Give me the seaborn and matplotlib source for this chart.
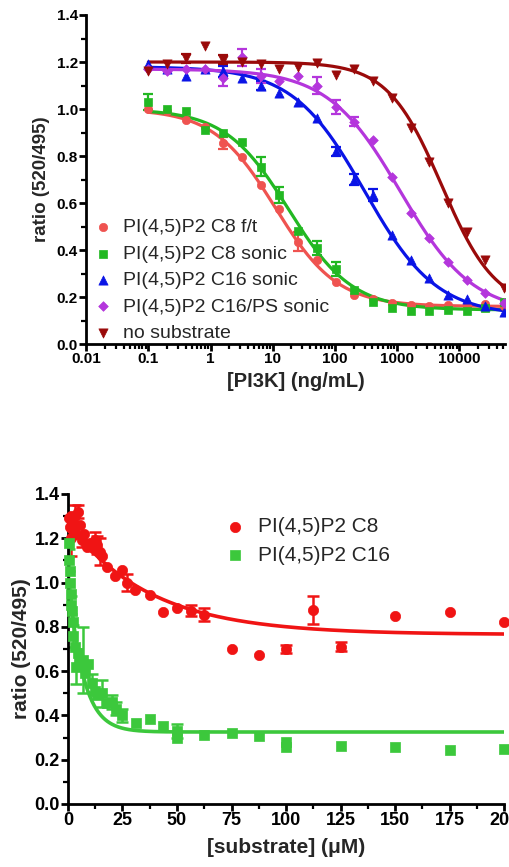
import numpy as np
import pandas as pd
import matplotlib
matplotlib.use('Agg')
import matplotlib.pyplot as plt
from matplotlib.ticker import MultipleLocator, LogLocator, NullFormatter
import seaborn as sns

# ---- top panel: [PI3K] titration (ng/mL), 2-fold dilutions ----
pi3k_conc = [0.1, 0.2, 0.4, 0.8, 1.6, 3.2, 6.4, 12.8, 25.6, 51.2, 102.4, 204.8,
             409.6, 819.2, 1638.4, 3276.8, 6553.6, 13107.2, 26214.4, 52428.8]

c8_ft = [1.00, 0.99, 0.955, 0.925, 0.855, 0.797, 0.675, 0.575, 0.435, 0.357,
         0.265, 0.21, 0.19, 0.175, 0.165, 0.16, 0.166, 0.16, 0.172, 0.16]
c8_ft_err = [0, 0, 0, 0, 0.025, 0, 0, 0, 0.04, 0, 0, 0, 0, 0, 0, 0, 0, 0, 0, 0]

c8_sonic = [1.03, 1.00, 0.99, 0.91, 0.90, 0.86, 0.755, 0.635, 0.48, 0.41,
            0.32, 0.23, 0.178, 0.153, 0.14, 0.14, 0.145, 0.14, 0.153, 0.18]
c8_sonic_err = [0.035, 0, 0, 0, 0, 0, 0.04, 0.035, 0, 0.03, 0.03, 0, 0, 0, 0, 0, 0, 0, 0, 0]

c16_sonic = [1.19, 1.17, 1.14, 1.17, 1.16, 1.13, 1.10, 1.07, 1.03, 0.96,
             0.82, 0.70, 0.634, 0.464, 0.357, 0.28, 0.21, 0.19, 0.16, 0.137]
c16_sonic_err = [0, 0, 0, 0, 0.025, 0, 0.02, 0, 0, 0, 0.02, 0.025, 0.025, 0, 0, 0, 0, 0, 0, 0]

c16ps_sonic = [1.17, 1.16, 1.17, 1.17, 1.13, 1.22, 1.14, 1.12, 1.14, 1.10,
               1.01, 0.946, 0.868, 0.71, 0.557, 0.451, 0.35, 0.272, 0.217, 0.174]
c16ps_sonic_err = [0, 0, 0, 0, 0.03, 0.035, 0.03, 0, 0, 0.035, 0.03, 0.02, 0, 0, 0, 0, 0, 0, 0, 0]

no_substrate = [1.16, 1.19, 1.215, 1.27, 1.21, 1.20, 1.19, 1.17, 1.18, 1.195,
                1.145, 1.17, 1.12, 1.045, 0.92, 0.776, 0.60, 0.478, 0.357, 0.238]
no_substrate_err = [0, 0, 0.02, 0, 0.02, 0, 0, 0, 0, 0, 0, 0, 0, 0, 0, 0, 0, 0, 0, 0]

# 4-parameter logistic fit parameters: top, bottom, EC50, hill
fit_top = [1.00, 1.00, 1.18, 1.17, 1.20]
fit_bottom = [0.16, 0.145, 0.12, 0.13, 0.15]
fit_ec50 = [11, 18, 300, 1120, 5200]
fit_hill = [0.87, 0.85, 0.75, 0.745, 1.0]

top_labels = ['PI(4,5)P2 C8 f/t', 'PI(4,5)P2 C8 sonic', 'PI(4,5)P2 C16 sonic',
              'PI(4,5)P2 C16/PS sonic', 'no substrate']
top_colors = ['#EF5350', '#22B822', '#0A14E6', '#B436DC', '#9A0A0A']
top_markers = ['o', 's', '^', 'D', 'v']
top_sizes = [36, 36, 44, 24, 44]
top_xticks = [0.01, 0.1, 1, 10, 100, 1000, 10000]
top_xticklabels = ['0.01', '0.1', '1', '10', '100', '1000', '10000']

# ---- bottom panel: substrate titration (uM) ----
c8_x = [0.4, 0.8, 1.2, 1.6, 2.0, 2.5, 3.1, 3.8, 4.7, 5.5, 6.3, 7.5, 8.6, 10.0,
        11.6, 12.5, 13.2, 14.7, 15.6, 17.7, 21.6, 24.6, 26.9, 30.7, 37.5, 43.75,
        50, 56.25, 62.5, 75, 87.5, 100, 112.5, 125, 150, 175, 200]
c8_y = [1.29, 1.25, 1.20, 1.30, 1.24, 1.27, 1.30, 1.22, 1.32, 1.26, 1.19, 1.22, 1.16, 1.18,
        1.155, 1.19, 1.17, 1.14, 1.12, 1.07, 1.03, 1.055, 1.0, 0.965, 0.944, 0.865,
        0.886, 0.873, 0.855, 0.70, 0.672, 0.70, 0.876, 0.71, 0.848, 0.866, 0.822]
c8_err = [0, 0.04, 0.08, 0, 0, 0.03, 0.05, 0, 0.03, 0, 0.03, 0, 0, 0,
          0, 0.04, 0.04, 0.06, 0, 0, 0, 0, 0.04, 0, 0, 0,
          0, 0.025, 0.03, 0, 0, 0.02, 0.065, 0.02, 0, 0, 0]

c16_x = [0.4, 0.6, 0.8, 1.0, 1.2, 1.5, 1.8, 2.2, 2.5, 3.1, 3.8, 4.5, 5.0, 7.0,
         7.8, 9.4, 10.9, 12.5, 13.2, 15.6, 17.7, 20.3, 22.0, 25.0, 31.25, 37.5,
         43.75, 50, 50, 62.5, 75, 87.5, 100, 100, 125, 150, 175, 200]
c16_y = [1.18, 1.10, 1.05, 1.00, 0.95, 0.90, 0.87, 0.82, 0.76, 0.71, 0.62, 0.68, 0.64, 0.65,
         0.59, 0.63, 0.545, 0.51, 0.49, 0.50, 0.455, 0.46, 0.43, 0.40, 0.367, 0.383,
         0.35, 0.33, 0.30, 0.31, 0.322, 0.305, 0.28, 0.255, 0.263, 0.257, 0.244, 0.248]
c16_err = [0, 0.05, 0, 0, 0, 0.04, 0, 0, 0.05, 0, 0.08, 0, 0, 0.15,
           0, 0, 0.04, 0, 0, 0.06, 0, 0.03, 0.03, 0.03, 0, 0,
           0, 0.03, 0, 0, 0, 0, 0, 0, 0, 0, 0, 0]

# one-phase decay fits: start value, plateau, rate constant
decay_y0 = [1.27, 1.05]
decay_plateau = [0.765, 0.325]
decay_k = [0.0266, 0.15]

bottom_labels = ['PI(4,5)P2 C8', 'PI(4,5)P2 C16']
bottom_colors = ['#F01414', '#3CC83C']
bottom_markers = ['o', 's']
bottom_xticks = [0, 25, 50, 75, 100, 125, 150, 175, 200]

sns.set_style('ticks')
plt.rcParams['font.family'] = ['Liberation Sans', 'DejaVu Sans']

fig = plt.figure(figsize=(5.1, 8.67), dpi=100)
ax1 = fig.add_axes([0.169, 0.6032, 0.822, 0.3795])
ax2 = fig.add_axes([0.1333, 0.0727, 0.855, 0.3576])


def style_axis(ax, tick_size):
    sns.despine(ax=ax)
    for side in ['left', 'bottom']:
        ax.spines[side].set_linewidth(2)
        ax.spines[side].set_color('black')
    ax.tick_params(which='major', direction='out', length=5, width=2,
                   labelsize=tick_size, pad=1, colors='black')
    ax.tick_params(which='minor', direction='out', length=3.5, width=1.6, colors='black')
    for lab in ax.get_xticklabels() + ax.get_yticklabels():
        lab.set_fontweight('bold')


# top panel
top_series = [c8_ft, c8_sonic, c16_sonic, c16ps_sonic, no_substrate]
top_errs = [c8_ft_err, c8_sonic_err, c16_sonic_err, c16ps_sonic_err, no_substrate_err]
grid = np.logspace(np.log10(pi3k_conc[0]), np.log10(pi3k_conc[-1]), 300)
for i, (vals, errs) in enumerate(zip(top_series, top_errs)):
    fit = fit_bottom[i] + (fit_top[i] - fit_bottom[i]) / (1 + (grid / fit_ec50[i]) ** fit_hill[i])
    sns.lineplot(x=grid, y=fit, color=top_colors[i], lw=2.3, ax=ax1, legend=False)
    df = pd.DataFrame({'conc': pi3k_conc, 'ratio': vals, 'err': errs})
    eb = df[df['err'] > 0]
    ax1.errorbar(eb['conc'], eb['ratio'], yerr=eb['err'], fmt='none',
                 ecolor=top_colors[i], elinewidth=1.6, capsize=3.5, capthick=1.6)
    sns.scatterplot(data=df, x='conc', y='ratio', marker=top_markers[i], s=top_sizes[i],
                    color=top_colors[i], edgecolor=top_colors[i], linewidth=0.5,
                    ax=ax1, label=top_labels[i], zorder=3)

ax1.set_xscale('log')
ax1.set_xlim(0.01, 55000)
ax1.set_ylim(0, 1.4)
ax1.set_xticks(top_xticks)
ax1.set_xticklabels(top_xticklabels)
ax1.xaxis.set_minor_locator(LogLocator(base=10, subs=np.arange(2, 10), numticks=20))
ax1.xaxis.set_minor_formatter(NullFormatter())
ax1.yaxis.set_major_locator(MultipleLocator(0.2))
ax1.yaxis.set_minor_locator(MultipleLocator(0.1))
ax1.set_yticklabels([f'{v:.1f}' for v in ax1.get_yticks()])
style_axis(ax1, 11)
ax1.set_xlabel('[PI3K] (ng/mL)', fontsize=14.5, fontweight='bold', labelpad=4)
ax1.set_ylabel('ratio (520/495)', fontsize=13.5, fontweight='bold', labelpad=5)
ax1.legend(loc='lower left', bbox_to_anchor=(-0.01, -0.035), frameon=False, fontsize=14,
           handlelength=0.8, handletextpad=0.6, labelspacing=0.45, borderpad=0.2,
           markerscale=1.0)

# bottom panel
bottom_x = [c8_x, c16_x]
bottom_y = [c8_y, c16_y]
bottom_err = [c8_err, c16_err]
lin = np.linspace(0, 200, 400)
for i in range(2):
    fit = decay_plateau[i] + (decay_y0[i] - decay_plateau[i]) * np.exp(-decay_k[i] * lin)
    sns.lineplot(x=lin, y=fit, color=bottom_colors[i], lw=2.6, ax=ax2, legend=False)
    df = pd.DataFrame({'conc': bottom_x[i], 'ratio': bottom_y[i], 'err': bottom_err[i]})
    eb = df[df['err'] > 0]
    ax2.errorbar(eb['conc'], eb['ratio'], yerr=eb['err'], fmt='none',
                 ecolor=bottom_colors[i], elinewidth=1.8, capsize=4, capthick=1.8)
    sns.scatterplot(data=df, x='conc', y='ratio', marker=bottom_markers[i], s=55,
                    color=bottom_colors[i], edgecolor=bottom_colors[i], linewidth=0.5,
                    ax=ax2, label=bottom_labels[i], zorder=3, clip_on=False)

ax2.set_xlim(0, 200)
ax2.set_ylim(0, 1.4)
ax2.set_xticks(bottom_xticks)
ax2.xaxis.set_minor_locator(MultipleLocator(12.5))
ax2.yaxis.set_major_locator(MultipleLocator(0.2))
ax2.yaxis.set_minor_locator(MultipleLocator(0.1))
ax2.set_yticklabels([f'{v:.1f}' for v in ax2.get_yticks()])
style_axis(ax2, 13)
ax2.set_xlabel('[substrate] (μM)', fontsize=15, fontweight='bold', labelpad=6)
ax2.set_ylabel('ratio (520/495)', fontsize=15, fontweight='bold', labelpad=2)
ax2.legend(loc='upper left', bbox_to_anchor=(0.32, 0.985), frameon=False, fontsize=15,
           handlelength=0.8, handletextpad=0.7, labelspacing=0.45)

fig.savefig('out.png', dpi=100)
